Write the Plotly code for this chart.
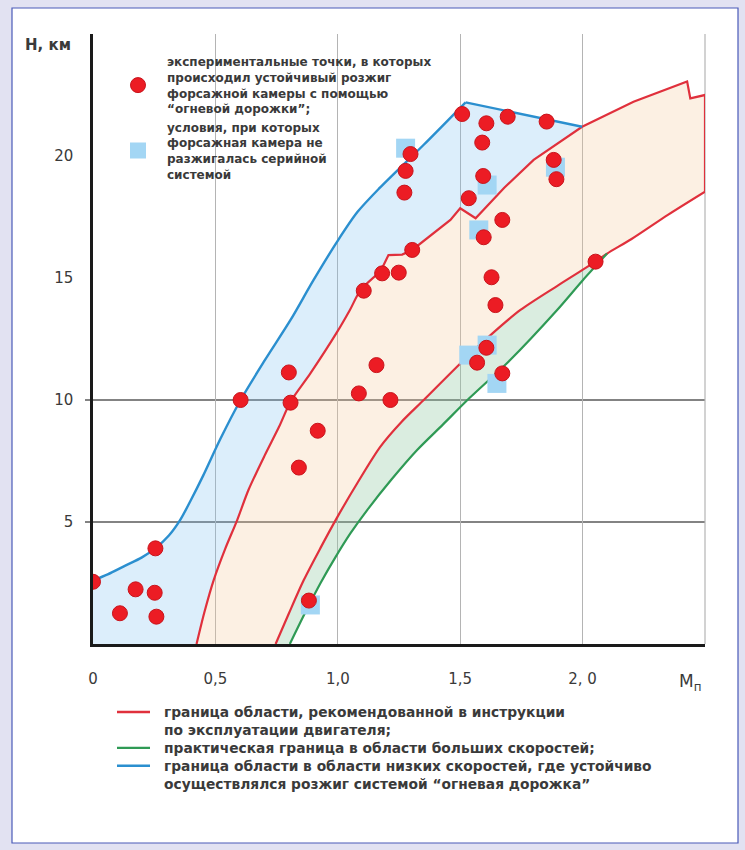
import plotly.graph_objects as go

# ---------------- data ----------------
# blue: low-speed boundary (stable ignition by "fire track"), rising part + falling part
blue_M = [0, 0.06, 0.13, 0.20, 0.255, 0.31, 0.357, 0.40, 0.45, 0.52, 0.603, 0.70, 0.807, 0.90, 0.998, 1.08, 1.17, 1.35, 1.522, 1.998]
blue_H = [2.6, 2.85, 3.2, 3.55, 3.93, 4.45, 5.1, 5.9, 6.9, 8.4, 10.0, 11.6, 13.28, 14.9, 16.5, 17.7, 18.68, 20.45, 22.2, 21.2]
BLUE_PEAK = 18  # index of the peak point

# red: recommended region, upper/left boundary
red_up_M = [0.423, 0.455, 0.493, 0.54, 0.589, 0.635, 0.70, 0.76, 0.807, 0.888, 0.998, 1.05, 1.093, 1.174, 1.207, 1.263, 1.304, 1.46, 1.50, 1.563, 1.68, 1.80, 1.998, 2.208, 2.427, 2.44, 2.5]
red_up_H = [0.0, 1.3, 2.62, 3.9, 5.08, 6.31, 7.7, 8.9, 9.93, 11.09, 12.8, 13.7, 14.5, 15.26, 15.94, 15.96, 16.15, 17.38, 17.86, 17.45, 18.7, 19.84, 21.2, 22.22, 23.05, 22.36, 22.5]
RED_STEP = 13  # index where the smooth part of the upper boundary ends

# red: recommended region, lower/right boundary (from right edge down to H=0)
red_lo_M = [2.5, 2.35, 2.2, 2.10, 2.053, 1.90, 1.746, 1.624, 1.515, 1.351, 1.26, 1.174, 1.08, 0.998, 0.93, 0.861, 0.80, 0.746]
red_lo_H = [18.54, 17.6, 16.6, 16.0, 15.67, 14.7, 13.69, 12.66, 11.64, 10.0, 9.1, 8.09, 6.6, 5.2, 3.95, 2.62, 1.25, 0.0]

# green: practical high-speed boundary
green_M = [0.804, 0.865, 0.929, 0.99, 1.052, 1.12, 1.22, 1.324, 1.43, 1.54, 1.70, 1.896, 2.0, 2.10]
green_H = [0.0, 1.25, 2.49, 3.55, 4.54, 5.49, 6.75, 7.95, 9.0, 10.1, 11.6, 13.69, 14.9, 16.0]

# experimental points: stable ignition with "fire track"
pts_M = [0.0, 0.11, 0.174, 0.252, 0.255, 0.259, 0.603, 0.80, 0.807, 0.841, 0.918, 0.882,
         1.086, 1.158, 1.215, 1.106, 1.181, 1.249, 1.304, 1.272, 1.277, 1.297,
         1.508, 1.535, 1.607, 1.59, 1.594, 1.596, 1.672, 1.694, 1.628, 1.644,
         1.607, 1.569, 1.672, 1.853, 1.882, 1.893, 2.053]
pts_H = [2.55, 1.26, 2.24, 2.10, 3.92, 1.12, 10.0, 11.13, 9.89, 7.23, 8.74, 1.78,
         10.27, 11.43, 10.0, 14.48, 15.19, 15.22, 16.15, 18.5, 19.39, 20.08,
         21.72, 18.27, 21.34, 20.55, 19.18, 16.67, 17.38, 21.61, 15.03, 13.89,
         12.14, 11.53, 11.09, 21.41, 19.84, 19.05, 15.67]

# conditions where the serial system did not ignite the afterburner
sq_M = [0.888, 1.277, 1.576, 1.61, 1.535, 1.61, 1.65, 1.889]
sq_H = [1.6, 20.32, 16.97, 18.81, 11.84, 12.25, 10.68, 19.54]

X_MAX = 2.5
Y_MAX = 25
x_tickvals = [0, 0.5, 1.0, 1.5, 2.0]
x_ticktext = ["0", "0,5", "1,0", "1,5", "2, 0"]
y_tickvals = [5, 10, 15, 20]
y_ticktext = ["5", "10", "15", "20"]
y_gridvals = [5, 10]

name_pts = "экспериментальные точки, в которых<br>происходил устойчивый розжиг<br>форсажной камеры с помощью<br>“огневой дорожки”;"
name_sq = "условия, при которых<br>форсажная камера не<br>разжигалась серийной<br>системой"
legend_lines = ["граница области, рекомендованной в инструкции",
                "по эксплуатации двигателя;",
                "практическая граница в области больших скоростей;",
                "граница области в области низких скоростей, где устойчиво",
                "осуществлялся розжиг системой “огневая дорожка”"]

# ---------------- colours / fonts ----------------
RED = "#e0303c"
GREEN = "#2f9a55"
BLUE = "#2b8fcf"
FILL_BLUE = "rgba(120,190,240,0.26)"
FILL_PEACH = "rgba(245,200,150,0.27)"
FILL_GREEN = "rgba(140,200,160,0.32)"
FONT = "DejaVu Sans"
TXT = "#3a3a3a"
PAGE_BG = "#e2e2f2"
LEG2_SIZE = 13.8
LINE_H = LEG2_SIZE * 1.3

# plot-area geometry (pixels) for positioning the lower key
M_L, M_R, M_T, M_B, W, H = 93, 40, 34, 206, 745, 850
PW, PH = W - M_L - M_R, H - M_T - M_B
def paper_x(px):
    return (px - M_L) / PW
def paper_y(py):
    return (H - M_B - py) / PH

fig = go.Figure()

# ---- filled regions ----
k = red_up_M.index(1.998)
bx = [0] + blue_M + red_up_M[:k][::-1] + [0]
by = [0] + blue_H + red_up_H[:k][::-1] + [0]
fig.add_trace(go.Scatter(x=bx, y=by, fill="toself", fillcolor=FILL_BLUE, mode="none",
                         showlegend=False, hoverinfo="skip"))
fig.add_trace(go.Scatter(x=red_up_M + red_lo_M, y=red_up_H + red_lo_H, fill="toself",
                         fillcolor=FILL_PEACH, mode="none", showlegend=False, hoverinfo="skip"))
i0 = red_lo_M.index(2.10)
gx = red_lo_M[i0:][::-1] + green_M[::-1]
gy = red_lo_H[i0:][::-1] + green_H[::-1]
fig.add_trace(go.Scatter(x=gx, y=gy, fill="toself", fillcolor=FILL_GREEN, mode="none",
                         showlegend=False, hoverinfo="skip"))

# ---- boundary lines ----
def add_line(x, y, color, width, shape):
    fig.add_trace(go.Scatter(x=x, y=y, mode="lines", showlegend=False, hoverinfo="skip",
                             line=dict(color=color, width=width, shape=shape, smoothing=0.8)))

add_line(red_up_M[:RED_STEP + 1], red_up_H[:RED_STEP + 1], RED, 2.2, "spline")
add_line(red_up_M[RED_STEP:] + red_lo_M[:1], red_up_H[RED_STEP:] + red_lo_H[:1], RED, 2.2, "linear")
add_line(red_lo_M, red_lo_H, RED, 2.2, "spline")
add_line(green_M, green_H, GREEN, 2.2, "spline")
add_line(blue_M[:BLUE_PEAK + 1], blue_H[:BLUE_PEAK + 1], BLUE, 2.4, "spline")
add_line(blue_M[BLUE_PEAK:], blue_H[BLUE_PEAK:], BLUE, 2.4, "linear")

# ---- points ----
fig.add_trace(go.Scatter(x=sq_M, y=sq_H, mode="markers",
                         marker=dict(symbol="square", size=19, color="#a3d6f4", line=dict(width=0)),
                         name=name_sq, legendrank=2))
fig.add_trace(go.Scatter(x=pts_M, y=pts_H, mode="markers",
                         marker=dict(symbol="circle", size=15, color="#ec1c24",
                                     line=dict(width=1, color="#c8141c")),
                         name=name_pts, legendrank=1))

# ---- frame / grid shapes ----
shapes = [dict(type="rect", xref="paper", yref="paper",
               x0=paper_x(12), x1=paper_x(738), y0=paper_y(843), y1=paper_y(8),
               fillcolor="white", line=dict(color="#4a5ab8", width=1.2), layer="below")]
for v in y_gridvals:
    shapes.append(dict(type="line", xref="paper", yref="paper", x0=paper_x(85), x1=1,
                       y0=v / Y_MAX, y1=v / Y_MAX, line=dict(color="#5a5a5a", width=1.3),
                       layer="below"))
shapes.append(dict(type="line", xref="paper", yref="paper", x0=1, x1=1, y0=0, y1=1,
                   line=dict(color="#b4b4b4", width=1.2), layer="below"))

# lower key: line samples aligned with lines 1, 3, 4 of the text block
KEY_TOP = 703
for line_idx, col in [(0, RED), (2, GREEN), (3, BLUE)]:
    yc = KEY_TOP + (line_idx + 0.5) * LINE_H
    shapes.append(dict(type="line", xref="paper", yref="paper",
                       x0=paper_x(117), x1=paper_x(150), y0=paper_y(yc), y1=paper_y(yc),
                       line=dict(color=col, width=2.4)))

fig.update_layout(
    width=W, height=H,
    margin=dict(l=M_L, r=M_R, t=M_T, b=M_B),
    paper_bgcolor=PAGE_BG,
    plot_bgcolor="rgba(0,0,0,0)",
    font=dict(family=FONT, color=TXT, size=13),
    xaxis=dict(range=[0, X_MAX], tickvals=x_tickvals, ticktext=x_ticktext,
               showgrid=True, gridcolor="#b4b4b4", gridwidth=1.2,
               showline=True, linecolor="#1a1a1a", linewidth=2.5,
               ticks="", zeroline=False, ticklabelstandoff=19,
               tickfont=dict(family=FONT, size=15, color=TXT), fixedrange=True),
    yaxis=dict(range=[0, Y_MAX], tickvals=y_tickvals, ticktext=y_ticktext,
               showgrid=False, showline=True, linecolor="#1a1a1a", linewidth=2.5,
               ticks="", zeroline=False, ticklabelstandoff=14,
               tickfont=dict(family=FONT, size=15, color=TXT), fixedrange=True),
    legend=dict(x=paper_x(109), y=0.978, xanchor="left", yanchor="top",
                bgcolor="rgba(0,0,0,0)",
                font=dict(family=FONT, size=12, color=TXT, weight="bold"),
                itemwidth=48, valign="middle"),
    shapes=shapes,
    annotations=[
        dict(text="H, км", xref="paper", yref="paper", x=paper_x(48), y=paper_y(45),
             xanchor="center", yanchor="middle", showarrow=False,
             font=dict(family=FONT, size=15, color=TXT, weight="bold")),
        dict(text="M<sub>п</sub>", xref="x", yref="paper", x=2.44, y=paper_y(682),
             xanchor="center", yanchor="middle", showarrow=False,
             font=dict(family=FONT, size=17, color=TXT)),
        dict(text="<br>".join(legend_lines), xref="paper", yref="paper",
             x=paper_x(162), y=paper_y(KEY_TOP - 1), xanchor="left", yanchor="top",
             align="left", showarrow=False,
             font=dict(family=FONT, size=LEG2_SIZE, color=TXT, weight="bold")),
    ],
)

fig.write_html("out.html", config={"displayModeBar": False},
               post_script="document.body.style.margin='0';document.body.style.background='%s';" % PAGE_BG)
